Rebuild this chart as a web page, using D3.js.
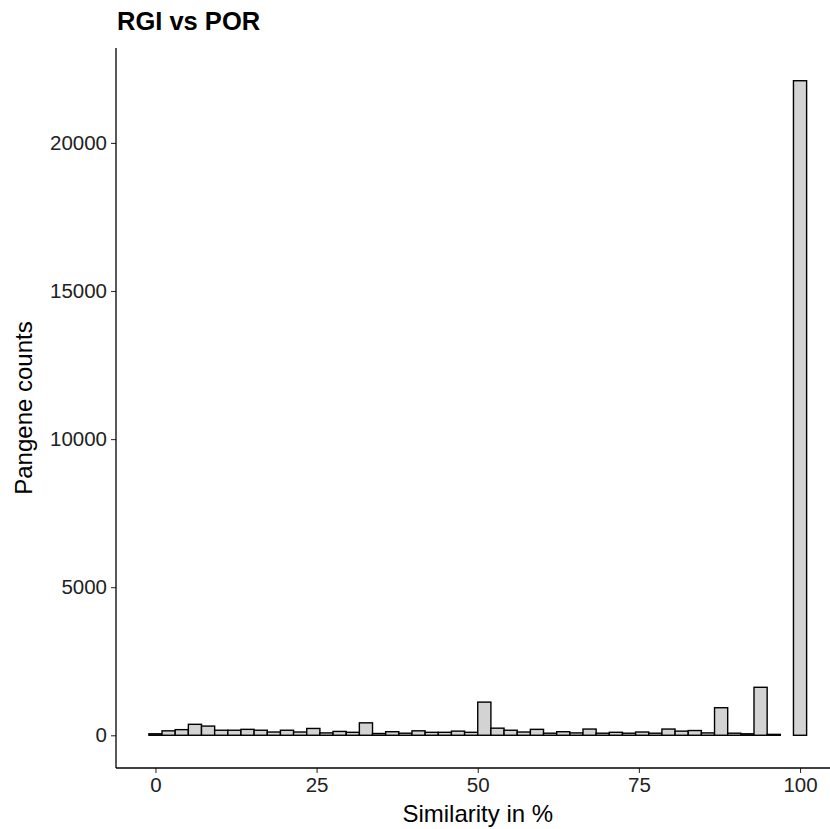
<!DOCTYPE html>
<html><head><meta charset="utf-8">
<script src="https://cdn.jsdelivr.net/npm/d3@7"></script>
<style>body{margin:0;background:#fff}svg{display:block}</style>
</head><body>
<svg id="chart" width="830" height="829"></svg>
<script>
// Histogram: 50 bins, width 100/49, centred at 0 ... 100
const binCenters = d3.range(50).map(i => i * 100 / 49);
const counts = [50,150,190,370,310,170,170,200,170,110,
                170,110,230,80,130,100,420,60,120,70,
                150,100,100,140,100,1120,240,170,110,200,
                70,120,80,210,70,100,70,110,70,210,
                140,160,80,930,70,50,1620,30,0,22100];
const xTicks = [0,25,50,75,100];
const yTicks = [0,5000,10000,15000,20000];
const title = "RGI vs POR";
const xTitle = "Similarity in %";
const yTitle = "Pangene counts";

const binW = 100/49;
const svg = d3.select("#chart");
const pLeft = 116, pRight = 839.5, pTop = 48, pBottom = 768;
const xMin = -binW/2, xMax = 100 + binW/2;
const xPad = (xMax - xMin) * 0.05;
const x = d3.scaleLinear().domain([xMin - xPad, xMax + xPad]).range([pLeft, pRight]);
const yMaxV = d3.max(counts);
const y = d3.scaleLinear().domain([-0.05*yMaxV, 1.05*yMaxV]).range([pBottom, pTop]);

const font = "'Liberation Sans', Arial, Helvetica, sans-serif";

const bins = binCenters.map((c, i) => ({c, n: counts[i]})).filter(b => b.n > 0);
svg.append("g").selectAll("rect").data(bins).join("rect")
  .attr("x", d => x(d.c - binW/2))
  .attr("width", d => x(d.c + binW/2) - x(d.c - binW/2))
  .attr("y", d => y(d.n))
  .attr("height", d => y(0) - y(d.n))
  .attr("fill", "#d3d3d3")
  .attr("stroke", "#000")
  .attr("stroke-width", 1.4);

const xAxis = svg.append("g").attr("transform", `translate(0,${pBottom})`)
  .call(d3.axisBottom(x).tickValues(xTicks).tickSize(5).tickPadding(4).tickFormat(d3.format("d")));
const yAxis = svg.append("g").attr("transform", `translate(${pLeft},0)`)
  .call(d3.axisLeft(y).tickValues(yTicks).tickSize(5).tickPadding(4).tickFormat(d3.format("d")));
[xAxis, yAxis].forEach(a => {
  a.select(".domain").remove();
  a.selectAll(".tick line").attr("stroke", "#333").attr("stroke-width", 1.1);
  a.selectAll(".tick text").attr("fill", "#222").style("font-family", font).style("font-size", "20.5px");
});
svg.append("line").attr("x1", pLeft).attr("x2", 830).attr("y1", pBottom).attr("y2", pBottom)
  .attr("stroke", "#000").attr("stroke-width", 1.3);
svg.append("line").attr("x1", pLeft).attr("x2", pLeft).attr("y1", pTop).attr("y2", pBottom)
  .attr("stroke", "#000").attr("stroke-width", 1.3);

svg.append("text").attr("x", (pLeft + pRight)/2).attr("y", 822)
  .attr("text-anchor", "middle").style("font-family", font).style("font-size", "24px")
  .attr("fill", "#000").text(xTitle);
svg.append("text").attr("transform", `translate(32,${(pTop+pBottom)/2}) rotate(-90)`)
  .attr("text-anchor", "middle").style("font-family", font).style("font-size", "24px")
  .attr("fill", "#000").text(yTitle);
svg.append("text").attr("x", pLeft + 1).attr("y", 30)
  .style("font-family", font).style("font-size", "25.5px").style("font-weight", "bold")
  .attr("fill", "#000").text(title);
</script>
</body></html>
